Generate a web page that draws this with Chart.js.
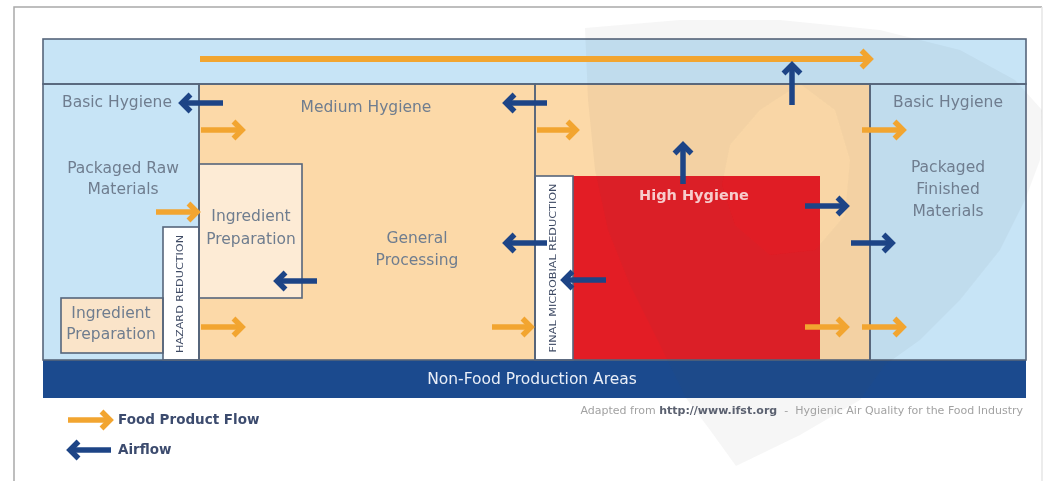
<!DOCTYPE html>
<html><head><meta charset="utf-8">
<script src="https://cdn.jsdelivr.net/npm/chart.js@4/dist/chart.umd.min.js"></script>
<style>html,body{margin:0;padding:0;background:#fff;overflow:hidden}#wrap{width:1054px;height:481px;position:relative}</style>
</head><body><div id="wrap"><canvas id="c"></canvas></div>
<script>
// ---- Diagram data (diagram units map 1:1 through hidden linear scales) ----
const zoneNames = ['topBand','basicLeft','mediumLeft','mediumRight','basicRight','ingredientInner','ingredientLeft','hazard','finalStrip','highHygiene','nonFood'];
const zoneX0 = [43, 43, 199, 535, 870, 199, 61, 163, 535, 573, 43];
const zoneY0 = [39, 84, 84, 84, 84, 164, 298, 227, 176, 176, 360];
const zoneX1 = [1026, 199, 535, 870, 1026, 302, 163, 199, 573, 820, 1026];
const zoneY1 = [84, 360, 360, 360, 360, 298, 353, 360, 360, 360, 398];

// arrows: tail -> head
const arrowKind = ['food','food','food','food','food','food','food','food','food','food',
                   'air','air','air','air','air','air','air','air','air','air'];
const arrowX0 = [200, 201, 156, 201, 492, 537, 862, 805, 862, 68,   223, 547, 547, 317, 606, 792, 683, 805, 851, 111];
const arrowY0 = [59, 130, 212, 327, 327, 130, 130, 327, 327, 420,   103, 103, 243, 281, 280, 105, 184, 206, 243, 450];
const arrowX1 = [870, 242, 197, 242, 531, 576, 903, 846, 903, 110,  182, 506, 506, 277, 564, 792, 683, 846, 892, 70];
const arrowY1 = [59, 130, 212, 327, 327, 130, 130, 327, 327, 420,   103, 103, 243, 281, 280, 65, 145, 206, 243, 450];

const labelText = ['Basic Hygiene','Packaged Raw','Materials','Medium Hygiene','Ingredient','Preparation','General','Processing',
                   'Ingredient','Preparation','High Hygiene','Basic Hygiene','Packaged','Finished','Materials','Non-Food Production Areas'];
const labelX = [117, 123, 123, 366, 251, 251, 417, 417, 111, 111, 694, 948, 948, 948, 948, 532];
const labelY = [103, 169, 190, 108, 217, 240, 239, 261, 314, 335, 196, 103, 168, 190, 212, 380];
const labelRole = ['zone','zone','zone','zone','zone','zone','zone','zone','zone','zone','high','zone','zone','zone','zone','band'];

const verticalText = ['HAZARD REDUCTION','FINAL MICROBIAL REDUCTION'];
const verticalX = [181, 554];
const verticalY = [294, 268];
const verticalLen = [118, 169];

const legendText = ['Food Product Flow','Airflow'];
const legendX = [118, 118];
const legendY = [420, 450];

const captionParts = ['Adapted from ','http://www.ifst.org','  -  Hygienic Air Quality for the Food Industry'];

// watermark outline and its lighter inner region
const wmX = [585,680,780,880,960,1015,1042,1040,1025,1000,960,920,885,860,800,736,710,686,660,630,608,595,588];
const wmY = [28,20,20,30,50,80,110,160,200,250,300,340,365,400,435,466,430,398,345,285,230,170,100];
const wmInnerX = [800,760,730,722,735,770,815,845,850,835];
const wmInnerY = [84,110,145,185,225,255,250,215,160,110];

// ---- styles ----
const zoneFill = {topBand:'#c7e4f6',basicLeft:'#c7e4f6',mediumLeft:'#fcd9a8',mediumRight:'#fcd9a8',basicRight:'#c7e4f6',
  ingredientInner:'#fdebd5',ingredientLeft:'#fae4c9',hazard:'#ffffff',finalStrip:'#ffffff',highHygiene:'#e31d25',nonFood:'#1b4a8e'};
const zoneStroke = {topBand:true,basicLeft:true,mediumLeft:true,mediumRight:true,basicRight:true,ingredientInner:true,ingredientLeft:true,hazard:true,finalStrip:true,highHygiene:false,nonFood:false};
const kindColor = {food:'#f2a530', air:'#1d4486'};
const FONT = '"DejaVu Sans", "Open Sans", sans-serif';

const datasets = arrowKind.map((k,i)=>({
  data:[{x:arrowX0[i],y:arrowY0[i]},{x:arrowX1[i],y:arrowY1[i]}],
  showLine:true, borderColor:kindColor[k], backgroundColor:kindColor[k],
  borderWidth: i===0 ? 6 : 5.5, pointRadius:0, borderCapStyle:'butt', clip:false
}));

function polyPath(ctx, xs, ys, X, Y){
  xs.forEach((x,i)=>{ if(i===0) ctx.moveTo(X(x),Y(ys[i])); else ctx.lineTo(X(x),Y(ys[i])); });
  ctx.closePath();
}

const diagramPlugin = {
  id:'diagram',
  beforeDatasetsDraw(chart){
    const ctx = chart.ctx, sx = chart.scales.x, sy = chart.scales.y;
    const X = v=>sx.getPixelForValue(v), Y = v=>sy.getPixelForValue(v);
    ctx.save();
    // outer frame
    ctx.strokeStyle = '#a9a9a9'; ctx.lineWidth = 1.5;
    ctx.beginPath(); ctx.moveTo(X(14),Y(490)); ctx.lineTo(X(14),Y(7)); ctx.lineTo(X(1042),Y(7)); ctx.stroke();
    ctx.strokeStyle = '#e6e6e6'; ctx.beginPath(); ctx.moveTo(X(1042),Y(7)); ctx.lineTo(X(1042),Y(490)); ctx.stroke();
    // zones
    zoneNames.forEach((n,i)=>{
      const x0=X(zoneX0[i]), y0=Y(zoneY0[i]), x1=X(zoneX1[i]), y1=Y(zoneY1[i]);
      ctx.fillStyle = zoneFill[n];
      ctx.fillRect(x0,y0,x1-x0,y1-y0);
    });
    zoneNames.forEach((n,i)=>{
      if(!zoneStroke[n]) return;
      const x0=X(zoneX0[i]), y0=Y(zoneY0[i]), x1=X(zoneX1[i]), y1=Y(zoneY1[i]);
      ctx.strokeStyle = '#56657b'; ctx.lineWidth = 1.6;
      ctx.strokeRect(x0,y0,x1-x0,y1-y0);
    });
    // faint watermark (shield), inner part slightly lighter
    ctx.beginPath(); polyPath(ctx, wmX, wmY, X, Y); polyPath(ctx, wmInnerX, wmInnerY, X, Y);
    ctx.fillStyle = 'rgba(70,70,70,0.05)'; ctx.fill('evenodd');
    ctx.beginPath(); polyPath(ctx, wmInnerX, wmInnerY, X, Y);
    ctx.fillStyle = 'rgba(70,70,70,0.015)'; ctx.fill();
    ctx.restore();
  },
  afterDatasetsDraw(chart){
    const ctx = chart.ctx, sx = chart.scales.x, sy = chart.scales.y;
    const X = v=>sx.getPixelForValue(v), Y = v=>sy.getPixelForValue(v);
    ctx.save();
    // arrow heads
    arrowKind.forEach((k,i)=>{
      const tx=X(arrowX1[i]), ty=Y(arrowY1[i]);
      const ang = Math.atan2(ty-Y(arrowY0[i]), tx-X(arrowX0[i]));
      const L=8.5;
      ctx.save(); ctx.translate(tx,ty); ctx.rotate(ang);
      ctx.strokeStyle = kindColor[k]; ctx.lineWidth = 5.5; ctx.lineJoin='miter'; ctx.lineCap='butt';
      ctx.beginPath(); ctx.moveTo(-L,-L); ctx.lineTo(0,0); ctx.lineTo(-L,L); ctx.stroke();
      ctx.restore();
    });
    // labels
    ctx.textAlign='center'; ctx.textBaseline='middle';
    labelText.forEach((t,i)=>{
      const r = labelRole[i];
      if(r==='zone'){ ctx.font = '15.5px '+FONT; ctx.fillStyle = '#6f7d8f'; }
      else if(r==='high'){ ctx.font = 'bold 14.5px '+FONT; ctx.fillStyle = '#f7cccc'; }
      else { ctx.font = '15.5px '+FONT; ctx.fillStyle = '#e9eef7'; }
      ctx.fillText(t, X(labelX[i]), Y(labelY[i]));
    });
    // vertical strip labels
    verticalText.forEach((t,i)=>{
      ctx.save(); ctx.translate(X(verticalX[i]), Y(verticalY[i])); ctx.rotate(-Math.PI/2);
      ctx.font = '8px '+FONT; ctx.fillStyle = '#3e4a64';
      const w = ctx.measureText(t).width; ctx.scale(verticalLen[i]/w, 1);
      ctx.fillText(t,0,0); ctx.restore();
    });
    // legend
    ctx.textAlign='left';
    legendText.forEach((t,i)=>{
      ctx.font = 'bold 13.5px '+FONT; ctx.fillStyle = '#3c4b6e';
      ctx.fillText(t, X(legendX[i]), Y(legendY[i]));
    });
    // caption (right aligned at 1023)
    const fonts = ['11px '+FONT, 'bold 11px '+FONT, '11px '+FONT];
    const cols = ['#a2a2a2','#5b6170','#a2a2a2'];
    let widths = captionParts.map((p,i)=>{ ctx.font=fonts[i]; return ctx.measureText(p).width; });
    let x = X(1023) - widths.reduce((a,b)=>a+b,0);
    captionParts.forEach((p,i)=>{ ctx.font=fonts[i]; ctx.fillStyle=cols[i]; ctx.fillText(p,x,Y(411)); x+=widths[i]; });
    ctx.restore();
  }
};

new Chart(document.getElementById('c'),{
  type:'scatter',
  data:{datasets},
  options:{
    responsive:true, maintainAspectRatio:false, animation:false,
    layout:{padding:0},
    plugins:{legend:{display:false}, tooltip:{enabled:false}},
    events:[],
    scales:{
      x:{type:'linear',min:0,max:1054,display:false},
      y:{type:'linear',min:0,max:481,reverse:true,display:false}
    }
  },
  plugins:[diagramPlugin]
});
</script></body></html>
